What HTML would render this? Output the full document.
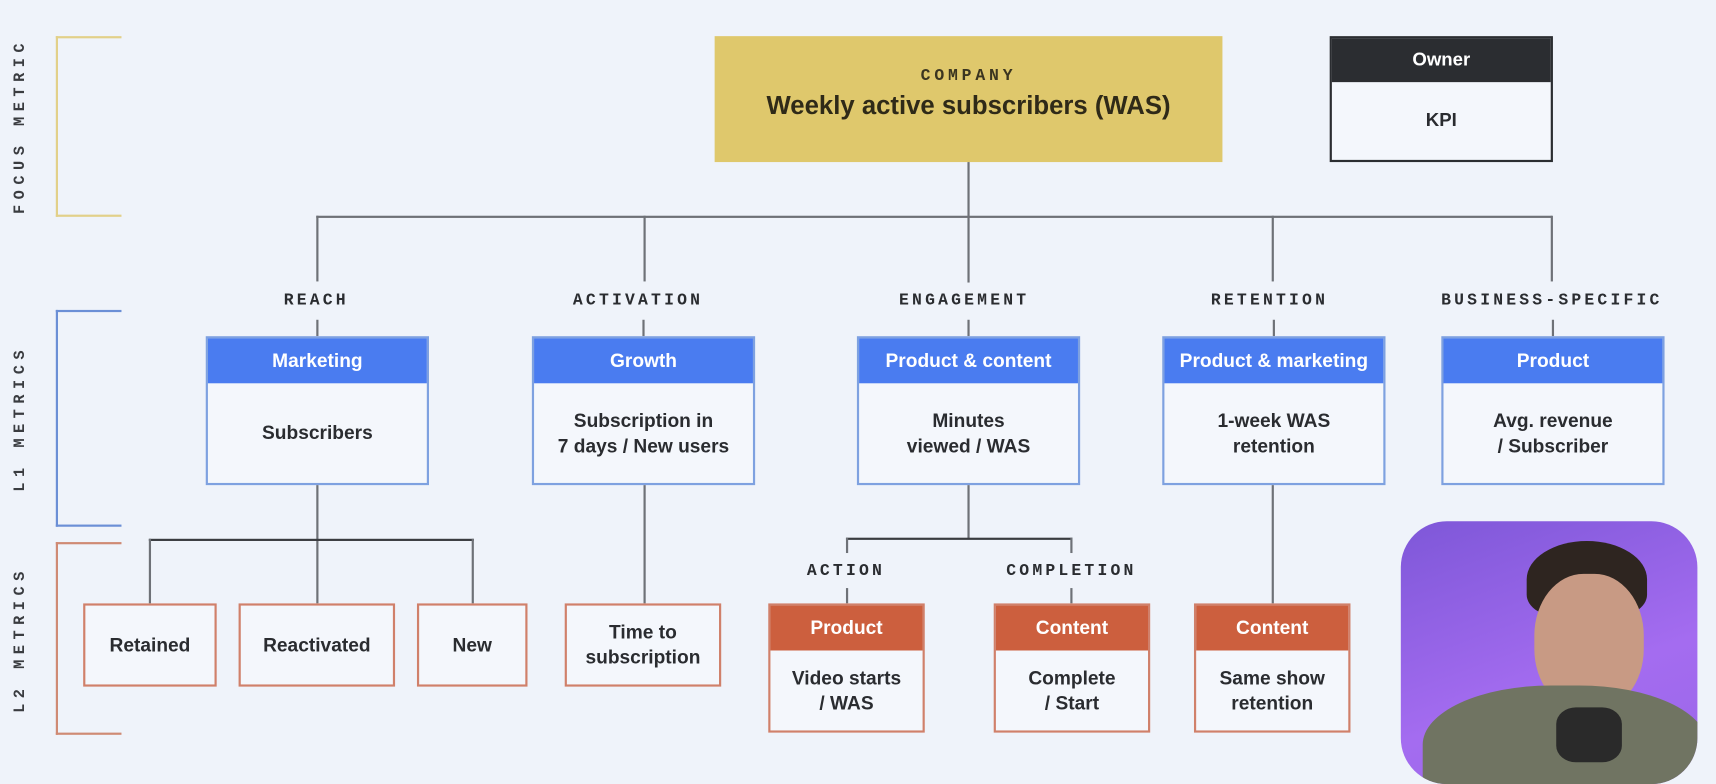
<!DOCTYPE html>
<html><head><meta charset="utf-8"><style>
html,body{margin:0;padding:0;background:#eff3fa;overflow:hidden}
#w{position:absolute;left:0;top:0;width:1568px;height:694px;transform-origin:0 0;transform:scale(1.09439,1.09510);font-family:"Liberation Sans",sans-serif;color:#2a2c30}
.a{position:absolute;box-sizing:border-box}
.l{position:absolute;background:#6e7177}
.mono{font-family:"Liberation Mono",monospace;font-weight:bold;font-size:15px;letter-spacing:2.9px;text-align:center;white-space:nowrap;transform:translateX(-50%)}
.box{position:absolute;box-sizing:border-box;background:#f4f7fc;text-align:center;font-weight:bold;font-size:17.5px;display:flex;flex-direction:column;white-space:nowrap}
.box .h{height:41px;line-height:41px;color:#fff;flex:none}
.box .b{flex:1;display:flex;align-items:center;justify-content:center;line-height:23px}
.blue{border:2px solid #7ea1e0}.blue .h{background:#4a7cf0}
.org{border:2px solid #d0806a}.org .h{background:#cc5f3e}
.side{position:absolute;font-family:"Liberation Mono",monospace;font-weight:bold;font-size:14px;letter-spacing:5px;color:#3a3c40;transform:translate(-50%,-50%) rotate(-90deg);white-space:nowrap}
</style></head><body><div id="w">
<div class="a" style="left:51px;top:33px;width:60px;height:165px;border:2.5px solid #e2d089;border-right:none"></div>
<div class="a" style="left:51px;top:283px;width:60px;height:198px;border:2.5px solid #6b8fd6;border-right:none"></div>
<div class="a" style="left:51px;top:495px;width:60px;height:176px;border:2.5px solid #cf8a74;border-right:none"></div>
<div class="side" style="left:19px;top:115px">FOCUS METRIC</div>
<div class="side" style="left:19px;top:382px">L1 METRICS</div>
<div class="side" style="left:19px;top:584px">L2 METRICS</div>

<div class="a" style="left:653px;top:33px;width:464px;height:115px;background:#dfc86c;text-align:center">
<div style="margin-top:28px;font-family:'Liberation Mono',monospace;font-weight:bold;font-size:15px;letter-spacing:3.5px;color:#3b3520">COMPANY</div>
<div style="margin-top:5px;font-weight:bold;font-size:23.5px;color:#2f2a18">Weekly active subscribers (WAS)</div></div>
<div class="a" style="left:1215px;top:33px;width:204px;height:115px;border:2px solid #2b2d31;background:#f4f7fc;text-align:center;font-weight:bold;font-size:17px">
<div style="background:#2b2d31;color:#fff;height:40px;line-height:40px">Owner</div>
<div style="line-height:70px">KPI</div></div>

<div class="l" style="left:884px;top:148px;width:1.5px;height:110px"></div>
<div class="l" style="left:289px;top:197px;width:1129px;height:1.5px"></div>
<div class="l" style="left:289px;top:197px;width:1.5px;height:60px"></div>
<div class="l" style="left:588px;top:197px;width:1.5px;height:60px"></div>
<div class="l" style="left:1162px;top:197px;width:1.5px;height:60px"></div>
<div class="l" style="left:1417px;top:197px;width:1.5px;height:60px"></div>
<div class="l" style="left:289px;top:292px;width:1.5px;height:15px"></div>
<div class="l" style="left:587px;top:292px;width:1.5px;height:15px"></div>
<div class="l" style="left:884px;top:292px;width:1.5px;height:15px"></div>
<div class="l" style="left:1163px;top:292px;width:1.5px;height:15px"></div>
<div class="l" style="left:1418px;top:292px;width:1.5px;height:15px"></div>

<div class="a mono" style="left:289px;top:266px">REACH</div>
<div class="a mono" style="left:583px;top:266px">ACTIVATION</div>
<div class="a mono" style="left:881px;top:266px">ENGAGEMENT</div>
<div class="a mono" style="left:1160px;top:266px">RETENTION</div>
<div class="a mono" style="left:1418px;top:266px">BUSINESS-SPECIFIC</div>

<div class="box blue" style="left:188px;top:307px;width:204px;height:136px"><div class="h">Marketing</div><div class="b">Subscribers</div></div>
<div class="box blue" style="left:486px;top:307px;width:204px;height:136px"><div class="h">Growth</div><div class="b">Subscription in<br>7 days / New users</div></div>
<div class="box blue" style="left:783px;top:307px;width:204px;height:136px"><div class="h">Product &amp; content</div><div class="b">Minutes<br>viewed / WAS</div></div>
<div class="box blue" style="left:1062px;top:307px;width:204px;height:136px"><div class="h">Product &amp; marketing</div><div class="b">1-week WAS<br>retention</div></div>
<div class="box blue" style="left:1317px;top:307px;width:204px;height:136px"><div class="h">Product</div><div class="b">Avg. revenue<br>/ Subscriber</div></div>

<div class="l" style="left:289px;top:443px;width:1.5px;height:108px"></div>
<div class="l" style="left:136px;top:492px;width:297px;height:1.5px;background:#3a3c40"></div>
<div class="l" style="left:136px;top:492px;width:1.5px;height:59px"></div>
<div class="l" style="left:431px;top:492px;width:1.5px;height:59px"></div>
<div class="l" style="left:588px;top:443px;width:1.5px;height:108px"></div>
<div class="l" style="left:884px;top:443px;width:1.5px;height:49px"></div>
<div class="l" style="left:773px;top:491px;width:207px;height:1.5px;background:#3a3c40"></div>
<div class="l" style="left:773px;top:491px;width:1.5px;height:14px"></div>
<div class="l" style="left:978px;top:491px;width:1.5px;height:14px"></div>
<div class="l" style="left:773px;top:537px;width:1.5px;height:14px"></div>
<div class="l" style="left:978px;top:537px;width:1.5px;height:14px"></div>
<div class="l" style="left:1162px;top:443px;width:1.5px;height:108px"></div>
<div class="a mono" style="left:773px;top:513px">ACTION</div>
<div class="a mono" style="left:979px;top:513px">COMPLETION</div>

<div class="box org" style="left:76px;top:551px;width:122px;height:76px"><div class="b">Retained</div></div>
<div class="box org" style="left:218px;top:551px;width:143px;height:76px"><div class="b">Reactivated</div></div>
<div class="box org" style="left:381px;top:551px;width:101px;height:76px"><div class="b">New</div></div>
<div class="box org" style="left:516px;top:551px;width:143px;height:76px"><div class="b">Time to<br>subscription</div></div>
<div class="box org" style="left:702px;top:551px;width:143px;height:118px"><div class="h">Product</div><div class="b">Video starts<br>/ WAS</div></div>
<div class="box org" style="left:908px;top:551px;width:143px;height:118px"><div class="h">Content</div><div class="b">Complete<br>/ Start</div></div>
<div class="box org" style="left:1091px;top:551px;width:143px;height:118px"><div class="h">Content</div><div class="b">Same show<br>retention</div></div>

<div class="a" style="left:1280px;top:476px;width:271px;height:240px;border-radius:42px;overflow:hidden;background:linear-gradient(160deg,#7e57d8,#a46cf0 60%,#9a66e8)">
<div class="a" style="left:115px;top:18px;width:110px;height:70px;border-radius:50% 50% 30% 30%;background:#2e2520"></div>
<div class="a" style="left:122px;top:48px;width:100px;height:125px;border-radius:45%;background:#c89a84"></div>
<div class="a" style="left:20px;top:150px;width:260px;height:120px;border-radius:45% 45% 0 0;background:#707462"></div>
<div class="a" style="left:142px;top:170px;width:60px;height:50px;border-radius:30%;background:#2a2a2a"></div>
</div>
</div></body></html>
